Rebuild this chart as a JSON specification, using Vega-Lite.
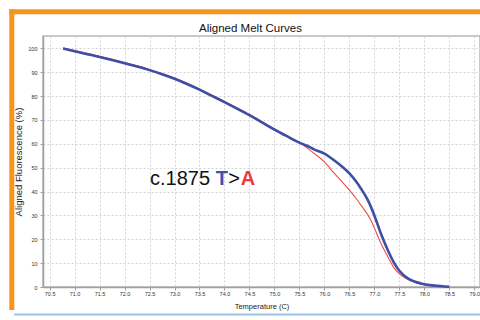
{
  "$schema": "https://vega.github.io/schema/vega-lite/v6.json",
  "width": 437,
  "height": 251,
  "autosize": {"type": "none"},
  "padding": {"left": 43, "top": 36, "right": 0, "bottom": 33},
  "background": "white",
  "title": {
    "text": "Aligned Melt Curves",
    "font": "Liberation Sans",
    "fontSize": 11.5,
    "fontWeight": "normal",
    "color": "#111111",
    "anchor": "middle",
    "offset": -28,
    "dx": -11
  },
  "config": {
    "view": {"stroke": "#b8b8b8", "strokeWidth": 1.5},
    "axis": {
      "labelFont": "Liberation Sans",
      "labelFontSize": 5.5,
      "labelColor": "#333333",
      "labelOverlap": false,
      "titleFont": "Liberation Sans",
      "titleFontWeight": "normal",
      "titleColor": "#222222",
      "domainColor": "#a0a0a0",
      "domainWidth": 1.5,
      "tickColor": "#a0a0a0",
      "tickSize": 3,
      "gridColor": "#d4d4d4",
      "gridDash": [2, 2],
      "gridWidth": 1
    }
  },
  "datasets": {
    "curves": [
      {"sample": "T", "temp": 70.77, "fluor": 100.0},
      {"sample": "T", "temp": 71.0, "fluor": 98.8},
      {"sample": "T", "temp": 71.25, "fluor": 97.6},
      {"sample": "T", "temp": 71.5, "fluor": 96.4},
      {"sample": "T", "temp": 71.75, "fluor": 95.1},
      {"sample": "T", "temp": 72.0, "fluor": 93.8},
      {"sample": "T", "temp": 72.25, "fluor": 92.4},
      {"sample": "T", "temp": 72.5, "fluor": 90.9},
      {"sample": "T", "temp": 72.75, "fluor": 89.2},
      {"sample": "T", "temp": 73.0, "fluor": 87.3},
      {"sample": "T", "temp": 73.25, "fluor": 85.1},
      {"sample": "T", "temp": 73.5, "fluor": 82.7},
      {"sample": "T", "temp": 73.75, "fluor": 80.1},
      {"sample": "T", "temp": 74.0, "fluor": 77.5},
      {"sample": "T", "temp": 74.25, "fluor": 74.8},
      {"sample": "T", "temp": 74.5, "fluor": 72.0},
      {"sample": "T", "temp": 74.75, "fluor": 69.0},
      {"sample": "T", "temp": 75.0, "fluor": 66.0},
      {"sample": "T", "temp": 75.25, "fluor": 63.2},
      {"sample": "T", "temp": 75.5, "fluor": 60.5},
      {"sample": "T", "temp": 75.65, "fluor": 59.2},
      {"sample": "T", "temp": 75.8, "fluor": 57.6},
      {"sample": "T", "temp": 76.0, "fluor": 55.9},
      {"sample": "T", "temp": 76.2, "fluor": 53.0},
      {"sample": "T", "temp": 76.35, "fluor": 50.5},
      {"sample": "T", "temp": 76.5, "fluor": 47.6},
      {"sample": "T", "temp": 76.62, "fluor": 44.6},
      {"sample": "T", "temp": 76.73, "fluor": 41.3},
      {"sample": "T", "temp": 76.87, "fluor": 36.4},
      {"sample": "T", "temp": 77.0, "fluor": 30.0},
      {"sample": "T", "temp": 77.13, "fluor": 22.4},
      {"sample": "T", "temp": 77.27, "fluor": 15.4},
      {"sample": "T", "temp": 77.4, "fluor": 9.9},
      {"sample": "T", "temp": 77.5, "fluor": 6.8},
      {"sample": "T", "temp": 77.67, "fluor": 3.6},
      {"sample": "T", "temp": 77.8, "fluor": 2.3},
      {"sample": "T", "temp": 77.93, "fluor": 1.5},
      {"sample": "T", "temp": 78.2, "fluor": 0.6},
      {"sample": "T", "temp": 78.5, "fluor": 0.1},
      {"sample": "A", "temp": 70.77, "fluor": 100.2},
      {"sample": "A", "temp": 71.0, "fluor": 99.1},
      {"sample": "A", "temp": 71.25, "fluor": 97.9},
      {"sample": "A", "temp": 71.5, "fluor": 96.7},
      {"sample": "A", "temp": 71.75, "fluor": 95.4},
      {"sample": "A", "temp": 72.0, "fluor": 94.1},
      {"sample": "A", "temp": 72.25, "fluor": 92.7},
      {"sample": "A", "temp": 72.5, "fluor": 91.2},
      {"sample": "A", "temp": 72.75, "fluor": 89.5},
      {"sample": "A", "temp": 73.0, "fluor": 87.6},
      {"sample": "A", "temp": 73.25, "fluor": 85.4},
      {"sample": "A", "temp": 73.5, "fluor": 83.0},
      {"sample": "A", "temp": 73.75, "fluor": 80.4},
      {"sample": "A", "temp": 74.0, "fluor": 77.8},
      {"sample": "A", "temp": 74.25, "fluor": 75.1},
      {"sample": "A", "temp": 74.5, "fluor": 72.3},
      {"sample": "A", "temp": 74.75, "fluor": 69.3},
      {"sample": "A", "temp": 75.0, "fluor": 66.3},
      {"sample": "A", "temp": 75.25, "fluor": 63.4},
      {"sample": "A", "temp": 75.5, "fluor": 60.5},
      {"sample": "A", "temp": 75.65, "fluor": 58.3},
      {"sample": "A", "temp": 75.8, "fluor": 55.9},
      {"sample": "A", "temp": 76.0, "fluor": 52.4},
      {"sample": "A", "temp": 76.2, "fluor": 47.6},
      {"sample": "A", "temp": 76.35, "fluor": 44.2},
      {"sample": "A", "temp": 76.5, "fluor": 40.6},
      {"sample": "A", "temp": 76.62, "fluor": 37.5},
      {"sample": "A", "temp": 76.73, "fluor": 34.3},
      {"sample": "A", "temp": 76.93, "fluor": 28.0},
      {"sample": "A", "temp": 77.03, "fluor": 23.3},
      {"sample": "A", "temp": 77.13, "fluor": 18.3},
      {"sample": "A", "temp": 77.27, "fluor": 12.7},
      {"sample": "A", "temp": 77.4, "fluor": 7.8},
      {"sample": "A", "temp": 77.53, "fluor": 5.0},
      {"sample": "A", "temp": 77.73, "fluor": 2.6},
      {"sample": "A", "temp": 77.93, "fluor": 1.3},
      {"sample": "A", "temp": 78.1, "fluor": 0.5},
      {"sample": "A", "temp": 78.3, "fluor": 0.1}
    ]
  },
  "layer": [
    {
      "data": {"name": "curves"},
      "transform": [{"filter": "datum.sample === 'A'"}],
      "mark": {"type": "line", "color": "#f04a4a", "strokeWidth": 1.1, "interpolate": "monotone"},
      "encoding": {
        "x": {
          "field": "temp", "type": "quantitative",
          "scale": {"domain": [70.368, 79.114], "nice": false, "zero": false},
          "axis": {
            "title": "Temperature (C)",
            "titleFontSize": 7.5,
            "titlePadding": 5,
            "labelPadding": 1.5,
            "labelOverlap": false,
            "labelFlush": false,
            "tickCount": 50,
            "values": [70.5, 71, 71.5, 72, 72.5, 73, 73.5, 74, 74.5, 75, 75.5, 76, 76.5, 77, 77.5, 78, 78.5, 79],
            "format": ".1f"
          }
        },
        "y": {
          "field": "fluor", "type": "quantitative",
          "scale": {"domain": [0, 105.2], "nice": false},
          "axis": {
            "title": "Aligned Fluorescence (%)",
            "titleFontSize": 9.5,
            "titlePadding": 4,
            "labelPadding": 3,
            "labelOverlap": false,
            "labelFlush": false,
            "tickCount": 50,
            "values": [0, 10, 20, 30, 40, 50, 60, 70, 80, 90, 100]
          }
        }
      }
    },
    {
      "data": {"name": "curves"},
      "transform": [{"filter": "datum.sample === 'T'"}],
      "mark": {"type": "line", "color": "#3d4ea6", "strokeWidth": 2.6, "interpolate": "monotone"},
      "encoding": {
        "x": {"field": "temp", "type": "quantitative"},
        "y": {"field": "fluor", "type": "quantitative"}
      }
    },
    {
      "data": {"values": [{"note": "c.1875"}]},
      "mark": {"type": "text", "align": "left", "baseline": "alphabetic", "font": "Liberation Sans", "fontSize": 20, "color": "#111111"},
      "encoding": {"x": {"datum": 72.51}, "y": {"datum": 42.7}, "text": {"field": "note"}}
    },
    {
      "data": {"values": [{"note": "T"}]},
      "mark": {"type": "text", "align": "left", "baseline": "alphabetic", "font": "Liberation Sans", "fontSize": 20, "fontWeight": "bold", "color": "#3f51b0", "dx": 65.6},
      "encoding": {"x": {"datum": 72.51}, "y": {"datum": 42.7}, "text": {"field": "note"}}
    },
    {
      "data": {"values": [{"note": ">"}]},
      "mark": {"type": "text", "align": "left", "baseline": "alphabetic", "font": "Liberation Sans", "fontSize": 20, "color": "#111111", "dx": 78.2},
      "encoding": {"x": {"datum": 72.51}, "y": {"datum": 42.7}, "text": {"field": "note"}}
    },
    {
      "data": {"values": [{"note": "A"}]},
      "mark": {"type": "text", "align": "left", "baseline": "alphabetic", "font": "Liberation Sans", "fontSize": 20, "fontWeight": "bold", "color": "#ee3a3a", "dx": 90.6},
      "encoding": {"x": {"datum": 72.51}, "y": {"datum": 42.7}, "text": {"field": "note"}}
    },
    {
      "data": {"values": [{"edge": "top"}]},
      "mark": {"type": "rule", "color": "#f7941d", "strokeWidth": 5, "clip": false},
      "encoding": {"x": {"datum": 69.694}, "x2": {"datum": 79.2}, "y": {"datum": 115.4}}
    },
    {
      "data": {"values": [{"edge": "left"}]},
      "mark": {"type": "rule", "color": "#f7941d", "strokeWidth": 5, "clip": false},
      "encoding": {"x": {"datum": 69.744}, "y": {"datum": 116.4}, "y2": {"datum": -9.6}}
    },
    {
      "data": {"values": [{"edge": "bottom"}]},
      "mark": {"type": "rule", "color": "#9cc2e5", "strokeWidth": 2, "clip": false},
      "encoding": {"x": {"datum": 69.79}, "x2": {"datum": 79.2}, "y": {"datum": -11.5}}
    }
  ]
}
